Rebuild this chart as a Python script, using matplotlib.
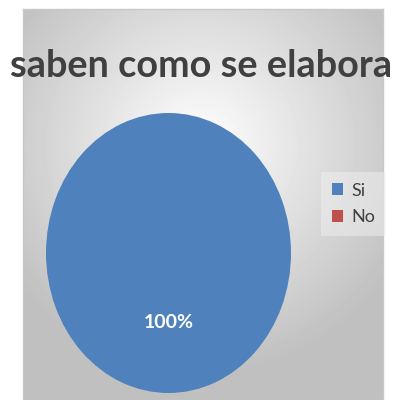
import numpy as np
import matplotlib.pyplot as plt
from matplotlib.patches import Patch

# Data
labels = ["Si", "No"]
values = [100, 0]
colors = ["#4f81bd", "#c0504d"]
title = "saben como se elabora"

W, H = 404, 400
fig = plt.figure(figsize=(W / 100, H / 100), dpi=100)
fig.patch.set_facecolor("white")

# Background: radial gradient inside the chart frame
fx0, fx1, fy0, fy1 = 23, 383, 9, 400
bg = fig.add_axes([fx0 / W, 1 - fy1 / H, (fx1 - fx0) / W, (fy1 - fy0) / H])
xx, yy = np.meshgrid(np.arange(fx0, fx1), np.arange(fy0, fy1))
r = np.hypot(xx - 200, (yy - 145) * 1.0) / 230
r = np.clip(r, 0, 1)
shade = 1.0 - r * (1.0 - 0.75)
bg.imshow(shade, cmap="gray", vmin=0, vmax=1, aspect="auto", interpolation="bilinear")
bg.set_xticks([])
bg.set_yticks([])
for s in bg.spines.values():
    s.set_color("#c8c8c8")
    s.set_linewidth(1)

# Pie (stretched vertically, like the original)
px0, px1, py0, py1 = 46, 291, 113, 393
ax = fig.add_axes([px0 / W, 1 - py1 / H, (px1 - px0) / W, (py1 - py0) / H])
ax.patch.set_alpha(0)
wedges, texts, autotexts = ax.pie(
    values, colors=colors, startangle=90, counterclock=False,
    autopct=lambda p: f"{p:.0f}%" if p > 0 else "", pctdistance=0.5,
    textprops=dict(color="white", fontsize=14, family="Lato", weight="bold"),
)
ax.set_aspect("auto")
ax.set_xlim(-1, 1)
ax.set_ylim(-1, 1)

# Title
fig.text(201 / W, 1 - 66 / H, title, ha="center", va="center",
         fontsize=27.3, weight="bold", family="Lato", color="#404040")

# Legend
handles = [Patch(facecolor=c, edgecolor="none") for c in colors]
leg = fig.legend(handles, labels, loc="center left",
                 bbox_to_anchor=(312 / W, 1 - 204 / H), frameon=True,
                 prop=dict(family="Lato", size=13), handlelength=0.6,
                 handleheight=0.6, handletextpad=0.5, labelspacing=0.6,
                 borderpad=0.6, fancybox=False)
leg.get_frame().set_facecolor("#f0f0f0")
leg.get_frame().set_alpha(0.5)
leg.get_frame().set_edgecolor("none")
for t in leg.get_texts():
    t.set_color("#404040")

fig.savefig("out.png", dpi=100)
